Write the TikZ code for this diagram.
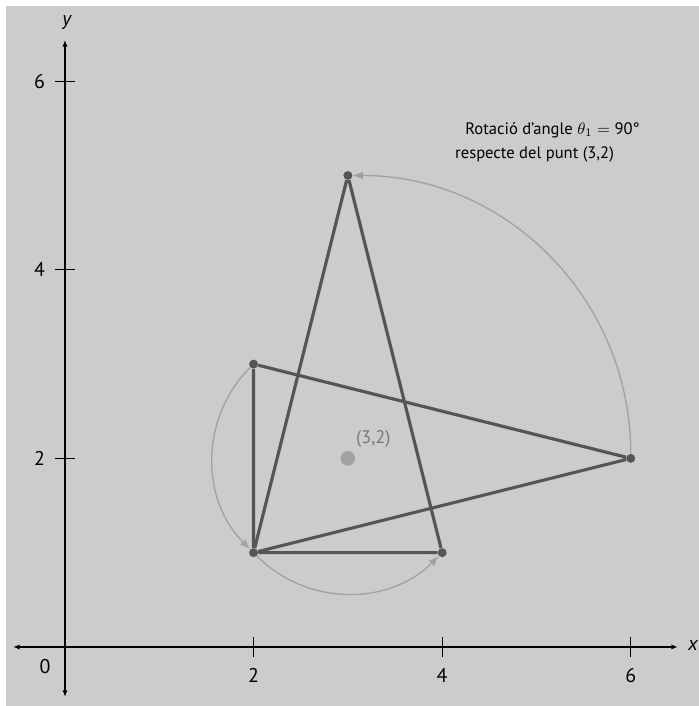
\documentclass[tikz,border=0pt]{standalone}
\usepackage{amsmath,amssymb}
\usepackage{fontspec}
\setmainfont{PT Sans}
\usepackage{xcolor}
\usetikzlibrary{arrows.meta}
\definecolor{bggray}{HTML}{CCCCCC}
\definecolor{trigray}{HTML}{555555}
\definecolor{arcgray}{HTML}{A2A2A2}
\definecolor{labgray}{HTML}{777777}

\begin{document}
\begin{tikzpicture}[x=2cm,y=2cm,
  vtx/.style={circle,fill=trigray,inner sep=0pt,minimum size=0.19cm},
  tri/.style={draw=trigray,line width=1.9pt},
  rot/.style={draw=arcgray,line width=0.8pt,-{Latex[length=0.22cm,width=0.17cm]}},
  axis/.style={line width=0.9pt,{Latex[length=0.14cm,width=0.11cm]}-{Latex[length=0.14cm,width=0.11cm]}},
  tickmark/.style={line width=0.6pt},
  ticklab/.style={font=\large}]
\useasboundingbox (-0.689,-0.626) rectangle (6.723,6.861);
\fill[bggray] (-0.626,-0.626) rectangle (6.723,6.797);
% axes
\coordinate (xl) at (-0.551,0);
\coordinate (xr) at (6.50,0);
\coordinate (yb) at (0,-0.53);
\coordinate (yt) at (0,6.437);
\draw[axis] (xl) -- (xr);
\draw[axis] (yb) -- (yt);
\node[ticklab,font=\large\itshape] (xlab) at (6.66,0.02) {x};
\node[ticklab,font=\large\itshape] (ylab) at (0.02,6.62) {y};
\node[ticklab] (orig) at (-0.21,-0.21) {0};
\foreach \t in {2,4,6} {
  \draw[tickmark] (\t,-0.106) -- (\t,0.106);
  \draw[tickmark] (-0.106,\t) -- (0.106,\t);
  \node[ticklab] (xt\t) at (\t,-0.30) {\t};
  \node[ticklab] (yt\t) at (-0.27,\t) {\t};
}
% centre of rotation
\node[circle,fill=arcgray,inner sep=0pt,minimum size=0.31cm] (ctr) at (3,2) {};
\node[text=labgray,font=\fontsize{11}{13}\selectfont] (ctrlab) at (3.27,2.2) {(3,2)};
% vertices
\node[vtx] (p1) at (2,3) {};
\node[vtx] (p2) at (2,1) {};
\node[vtx] (p3) at (6,2) {};
\node[vtx] (q2) at (4,1) {};
\node[vtx] (q3) at (3,5) {};
% rotation arcs
\draw[rot] (p1) to[bend right=45] (p2);
\draw[rot] (p2) to[bend right=45] (q2);
\draw[rot] (p3) to[bend right=45] (q3);
% triangles
\draw[tri] (p1) -- (p2) -- (p3) -- (p1);
\draw[tri] (p2) -- (q2) -- (q3) -- (p2);
% caption
\node (cap1) at (5.17,5.48) {Rotació d’angle $\theta_1={}$90°};
\node (cap2) at (4.98,5.22) {respecte del punt (3,2)};
\end{tikzpicture}
\end{document}
